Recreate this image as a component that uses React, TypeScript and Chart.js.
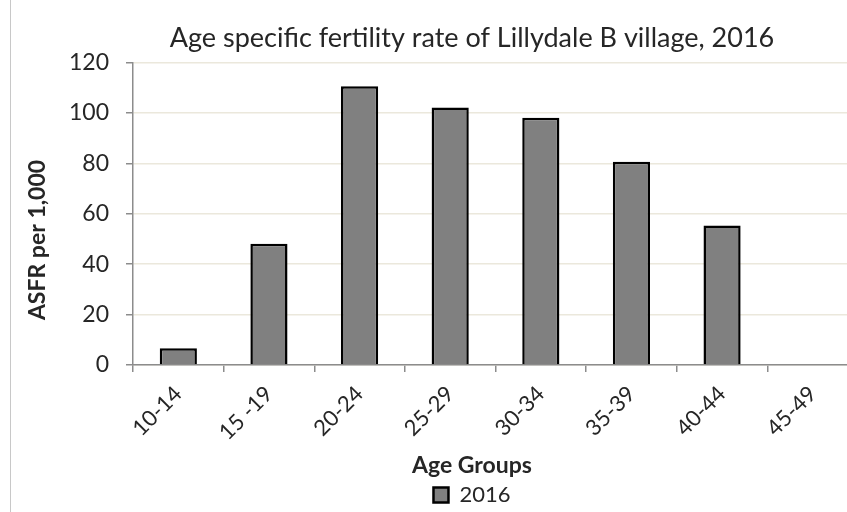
import React, { useEffect, useRef } from 'react';
import { Chart, registerables } from 'chart.js';

Chart.register(...registerables);

const categories = ['10-14', '15 -19', '20-24', '25-29', '30-34', '35-39', '40-44', '45-49'];
const seriesName = '2016';
const asfr2016 = [6.6, 48.1, 110.5, 102.1, 98.0, 80.6, 55.3, 0];
const yMin = 0;
const yMax = 120;
const yStep = 20;

const chartTitle = 'Age specific fertility rate of Lillydale B village, 2016';
const xTitle = 'Age Groups';
const yTitle = 'ASFR per 1,000';

const FONT = "Lato, 'Open Sans', sans-serif";
const TEXT = '#262626';
const AXIS = '#8c8c8c';
const GRID = '#ebe8dc';

const yTitlePlugin = {
  id: 'yTitleText',
  afterDraw(chart: any) {
    const ctx = chart.ctx as CanvasRenderingContext2D;
    ctx.save();
    ctx.translate(38, 240);
    ctx.rotate(-Math.PI / 2);
    ctx.font = `bold 23px ${FONT}`;
    ctx.fillStyle = TEXT;
    ctx.textAlign = 'center';
    ctx.textBaseline = 'middle';
    ctx.fillText(yTitle, 0, 0);
    ctx.restore();
  },
};

export default function App() {
  const ref = useRef<HTMLCanvasElement>(null);
  useEffect(() => {
    const chart = new Chart(ref.current as HTMLCanvasElement, {
      type: 'bar',
      data: {
        labels: categories,
        datasets: [
          {
            label: seriesName,
            data: asfr2016,
            backgroundColor: '#808080',
            borderColor: '#000000',
            borderWidth: 2.5,
            categoryPercentage: 1,
            barPercentage: 0.41,
          },
        ],
      },
      plugins: [yTitlePlugin],
      options: {
        animation: false,
        responsive: false,
        maintainAspectRatio: false,
        layout: { padding: { left: 52, right: 0, top: 0, bottom: 8 } },
        plugins: {
          tooltip: { enabled: false },
          title: {
            display: true,
            text: chartTitle,
            color: TEXT,
            font: { family: FONT, size: 27, weight: 'normal', lineHeight: 1.2 },
            padding: { top: 22, bottom: 8 },
          },
          legend: {
            display: true,
            position: 'bottom',
            title: {
              display: true,
              text: xTitle,
              color: TEXT,
              font: { family: FONT, size: 23, weight: 'bold', lineHeight: 1.0 },
              padding: { top: 0, bottom: 2.5 },
            },
            labels: {
              color: TEXT,
              boxWidth: 15,
              boxHeight: 15,
              padding: 4,
              font: { family: FONT, size: 22, lineHeight: 1.0 },
            },
          },
        },
        scales: {
          x: {
            grid: {
              display: true,
              drawOnChartArea: false,
              offset: true,
              tickLength: 7,
              color: AXIS,
              lineWidth: 1.5,
            },
            border: { color: AXIS, width: 1.5 },
            ticks: {
              color: TEXT,
              font: { family: FONT, size: 22 },
              minRotation: 45,
              maxRotation: 45,
              labelOffset: 0,
              padding: 9,
            },
          },
          y: {
            min: yMin,
            max: yMax,
            ticks: {
              stepSize: yStep,
              color: TEXT,
              font: { family: FONT, size: 23 },
              padding: 17,
            },
            grid: {
              color: GRID,
              lineWidth: 1.5,
              tickLength: 7,
              tickColor: AXIS,
            },
            border: { color: AXIS, width: 1.5 },
          },
          spacer: {
            type: 'linear',
            position: 'right',
            display: true,
            grid: { display: false },
            ticks: { display: false },
            border: { display: false },
            afterFit: (s: any) => {
              s.width = 34;
            },
          },
        },
      } as any,
    });
    return () => chart.destroy();
  }, []);
  return (
    <div
      style={{
        position: 'fixed',
        left: 0,
        top: 0,
        width: 847,
        height: 512,
        overflow: 'hidden',
        background: '#ffffff',
      }}
    >
      <div style={{ position: 'absolute', left: 10, top: 0, width: 1, height: 512, background: '#c8c8c8' }} />
      <canvas
        ref={ref}
        width={892}
        height={524}
        style={{ position: 'absolute', left: 0, top: 0, width: 892, height: 524 }}
      />
    </div>
  );
}
